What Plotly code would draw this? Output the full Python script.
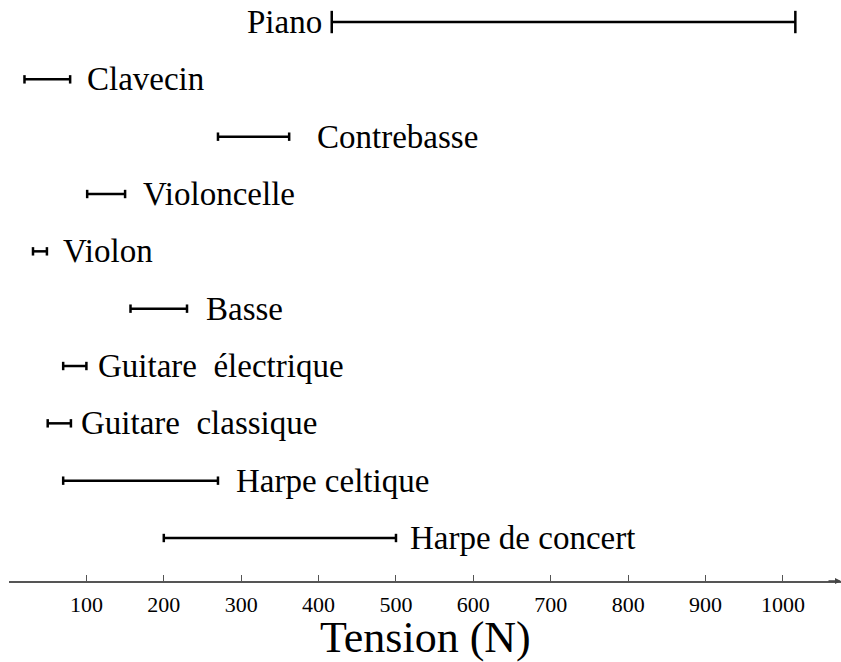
import plotly.graph_objects as go

instruments = ["Harpe de concert", "Harpe celtique", "Guitare  classique", "Guitare  électrique",
               "Basse", "Violon", "Violoncelle", "Contrebasse", "Clavecin", "Piano"]
tension_min = [200, 70, 50, 70, 157, 31, 101, 270, 20, 417]
tension_max = [500, 270, 80, 100, 230, 49, 150, 362, 79, 1016]
tick_values = [100, 200, 300, 400, 500, 600, 700, 800, 900, 1000]

# label styling (pixel gaps between bar end and label)
label_gap = [12, 16, 8, 10, 17, 14, 16, 26, 15, 8]
label_left = [False] * 9 + [True]
cap_size = [6] * 9 + [16]

FONT = "Liberation Serif, Times New Roman, serif"
fig = go.Figure()
annotations = []
for i, name in enumerate(instruments):
    yv = i + 1
    fig.add_trace(go.Scatter(
        x=[tension_min[i], tension_max[i]], y=[yv, yv], mode="lines+markers",
        line=dict(color="black", width=2.5),
        marker=dict(symbol="line-ns", size=cap_size[i], line=dict(color="black", width=2.5)),
        showlegend=False, hoverinfo="skip"))
    if label_left[i]:
        annotations.append(dict(x=tension_min[i], y=yv, xref="x", yref="y", text=name,
                                showarrow=False, xanchor="right", yanchor="middle",
                                xshift=-label_gap[i], font=dict(family=FONT, size=33, color="black")))
    else:
        annotations.append(dict(x=tension_max[i], y=yv, xref="x", yref="y", text=name,
                                showarrow=False, xanchor="left", yanchor="middle",
                                xshift=label_gap[i], font=dict(family=FONT, size=33, color="black")))

# arrow at the end of the x axis
annotations.append(dict(x=1075, y=0.25, xref="x", yref="y", ax=-14, ay=0, axref="pixel", ayref="pixel",
                        text="", showarrow=True, arrowhead=2, arrowsize=0.8, arrowwidth=1.5,
                        arrowcolor="#444"))
# axis title
annotations.append(dict(x=0.5, y=-0.098, xref="paper", yref="paper", text="Tension (N)",
                        showarrow=False, xanchor="center", yanchor="middle",
                        font=dict(family=FONT, size=44, color="black")))

fig.update_layout(
    width=841, height=662,
    margin=dict(l=9, r=0, t=0, b=81, autoexpand=False),
    paper_bgcolor="white", plot_bgcolor="white",
    annotations=annotations,
    xaxis=dict(range=[0, 1075], tickvals=tick_values, ticks="inside", ticklen=6,
               tickcolor="#555", tickwidth=1, showline=True, linecolor="#555", linewidth=1.5,
               showgrid=False, zeroline=False, automargin=False, ticklabelstandoff=3,
               tickfont=dict(family=FONT, size=22, color="black")),
    yaxis=dict(range=[0.25, 10.384], visible=False, showgrid=False, zeroline=False, automargin=False),
)
fig.write_html("out.html", config={"displayModeBar": False},
               post_script="document.body.style.margin='0';")
